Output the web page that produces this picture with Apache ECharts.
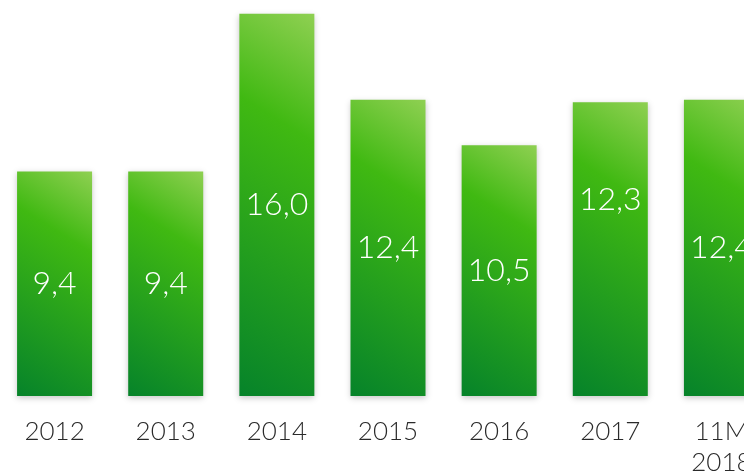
<!DOCTYPE html>
<html>
<head>
<meta charset="utf-8">
<script src="https://cdn.jsdelivr.net/npm/echarts@6/dist/echarts.min.js"></script>
<style>
  html, body { margin: 0; padding: 0; background: #fff; }
  #chart { width: 744px; height: 474px; }
</style>
</head>
<body>
<div id="chart"></div>
<script>
// Yearly values, one bar per period
const categories = ['2012', '2013', '2014', '2015', '2016', '2017', '11M\n2018'];
const values = [9.4, 9.4, 16.0, 12.4, 10.5, 12.3, 12.4];
const valueLabels = ['9,4', '9,4', '16,0', '12,4', '10,5', '12,3', '12,4'];

const BAR_WIDTH = 75;
const gradientStops = [
  { offset: 0, color: '#8fd052' },
  { offset: 0.3, color: '#40b912' },
  { offset: 1, color: '#06832a' }
];

// Diagonal fill running from the top-right corner to the bottom-left,
// with colour bands tilted by a fixed angle whatever the bar height.
function diagonalFill(w, h) {
  const a = 32 * Math.PI / 180;
  const L = w * Math.sin(a) + h * Math.cos(a);
  const x2 = (w - L * Math.sin(a)) / w;
  const y2 = (L * Math.cos(a)) / h;
  return new echarts.graphic.LinearGradient(1, 0, x2, y2, gradientStops);
}

const chart = echarts.init(document.getElementById('chart'), null, { renderer: 'canvas' });

function buildData(heights) {
  return values.map((v, i) => {
    const item = { value: v };
    if (heights) item.itemStyle = { color: diagonalFill(BAR_WIDTH, heights[i]) };
    // the 2017 figure sits higher inside its bar
    if (i === 5) item.label = { offset: [0, -49] };
    return item;
  });
}

chart.setOption({
  animation: false,
  grid: {
    left: -1, width: 778, top: 0, bottom: 78,
    containLabel: false,
    outerBoundsMode: 'none'
  },
  xAxis: {
    type: 'category',
    data: categories,
    axisLine: { show: false },
    axisTick: { show: false },
    axisLabel: {
      interval: 0,
      margin: 20,
      color: '#2a2a2a',
      fontFamily: 'Lato',
      fontWeight: 300,
      fontSize: 26,
      lineHeight: 31,
      hideOverlap: false
    }
  },
  yAxis: {
    type: 'value',
    min: 0,
    max: 16.58,
    show: false,
    splitLine: { show: false }
  },
  series: [{
    type: 'bar',
    data: buildData(null),
    barWidth: BAR_WIDTH,
    itemStyle: {
      color: '#3fb912',
      shadowColor: 'rgba(0,0,0,0.22)',
      shadowBlur: 6,
      shadowOffsetY: 2
    },
    label: {
      show: true,
      position: 'inside',
      color: '#ffffff',
      fontFamily: 'Lato',
      fontWeight: 300,
      fontSize: 32,
      formatter: p => valueLabels[p.dataIndex]
    }
  }]
});

// bar heights in pixels, read back from the value axis
const heights = values.map((v, i) => {
  const top = chart.convertToPixel({ seriesIndex: 0 }, [i, v])[1];
  const base = chart.convertToPixel({ seriesIndex: 0 }, [i, 0])[1];
  return Math.abs(base - top);
});
chart.setOption({ series: [{ data: buildData(heights) }] });
</script>
</body>
</html>
